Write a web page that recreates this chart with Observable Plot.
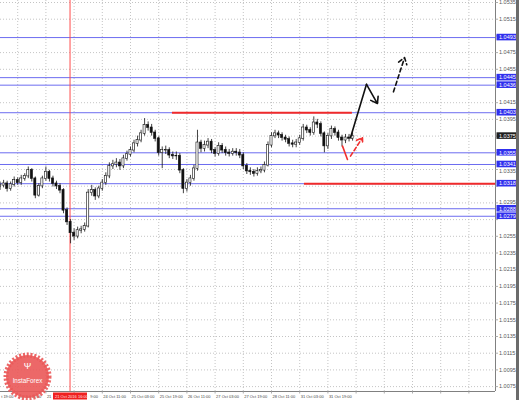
<!DOCTYPE html>
<html>
<head>
<meta charset="utf-8">
<script src="https://cdn.jsdelivr.net/npm/d3@7"></script>
<script src="https://cdn.jsdelivr.net/npm/@observablehq/plot@0.6"></script>
<style>
  body { margin: 0; background: #fff; }
  #wrap { position: relative; width: 519px; height: 400px; overflow: hidden; }
  #wrap svg { display: block; }
  #edge { position: absolute; left: 516px; top: 0; width: 3px; height: 400px; background: #6b6b6b; }
</style>
</head>
<body>
<div id="wrap"><div id="edge"></div></div>
<script>
// ---- data ----
const priceTicks = [1.0535, 1.0515, 1.0495, 1.0475, 1.0455, 1.0435, 1.0415, 1.0395, 1.0375, 1.0355, 1.0335, 1.0315,
  1.0295, 1.0275, 1.0255, 1.0235, 1.0215, 1.0195, 1.0175, 1.0155, 1.0135, 1.0115, 1.0095, 1.0075];
const timeLabels = ["19 Oct 19:00", "20 Oct 11:00", "21 Oct 03:00", "21 Oct 19:00", "24 Oct 11:00", "25 Oct 03:00",
  "25 Oct 19:00", "26 Oct 11:00", "27 Oct 03:00", "27 Oct 19:00", "28 Oct 11:00", "31 Oct 03:00", "31 Oct 19:00"];
const barsPerLabel = 16;
const firstOpen = 1.0314;
const closes = [
  1.0316, 1.0318, 1.0312, 1.0317, 1.0322, 1.0319, 1.0324, 1.0327, 1.0334, 1.0324,
  1.0304, 1.0315, 1.0324, 1.0332, 1.0324, 1.0318, 1.0315, 1.0310, 1.0286, 1.0272,
  1.0259, 1.0255, 1.0262, 1.0263, 1.0267, 1.0307, 1.0310, 1.0303, 1.0312, 1.0319,
  1.0327, 1.0339, 1.0341, 1.0343, 1.0339, 1.0348, 1.0353, 1.0358, 1.0366, 1.0370,
  1.0378, 1.0388, 1.0385, 1.0379, 1.0372, 1.0355, 1.0358, 1.0358, 1.0352, 1.0351,
  1.0351, 1.0334, 1.0312, 1.0319, 1.0324, 1.0336, 1.0367, 1.0360, 1.0364, 1.0368,
  1.0358, 1.0354, 1.0363, 1.0358, 1.0355, 1.0354, 1.0356, 1.0355, 1.0352, 1.0339,
  1.0333, 1.0332, 1.0330, 1.0333, 1.0334, 1.0340, 1.0364, 1.0375, 1.0378, 1.0376,
  1.0373, 1.0371, 1.0366, 1.0365, 1.0367, 1.0372, 1.0385, 1.0382, 1.0379, 1.0391,
  1.0389, 1.0378, 1.0363, 1.0375, 1.0383, 1.0379, 1.0373, 1.0370, 1.0373, 1.0372,
  1.0375];
const highs = [
  1.0320, 1.0322, 1.0321, 1.0320, 1.0326, 1.0325, 1.0328, 1.0330, 1.0338, 1.0336,
  1.0326, 1.0318, 1.0327, 1.0338, 1.0334, 1.0327, 1.0321, 1.0318, 1.0312, 1.0289,
  1.0275, 1.0264, 1.0266, 1.0267, 1.0271, 1.0311, 1.0316, 1.0313, 1.0315, 1.0323,
  1.0331, 1.0343, 1.0346, 1.0348, 1.0347, 1.0352, 1.0357, 1.0362, 1.0370, 1.0375,
  1.0382, 1.0396, 1.0392, 1.0389, 1.0382, 1.0374, 1.0362, 1.0363, 1.0361, 1.0356,
  1.0356, 1.0354, 1.0336, 1.0323, 1.0328, 1.0340, 1.0382, 1.0370, 1.0369, 1.0372,
  1.0371, 1.0361, 1.0367, 1.0366, 1.0362, 1.0359, 1.0360, 1.0360, 1.0359, 1.0355,
  1.0342, 1.0337, 1.0335, 1.0337, 1.0338, 1.0344, 1.0368, 1.0379, 1.0382, 1.0381,
  1.0379, 1.0376, 1.0374, 1.0370, 1.0371, 1.0376, 1.0389, 1.0388, 1.0385, 1.0398,
  1.0395, 1.0392, 1.0380, 1.0378, 1.0387, 1.0386, 1.0382, 1.0376, 1.0377, 1.0377,
  1.0379];
const lows = [
  1.0310, 1.0313, 1.0308, 1.0309, 1.0314, 1.0316, 1.0316, 1.0321, 1.0324, 1.0320,
  1.0300, 1.0302, 1.0312, 1.0321, 1.0320, 1.0314, 1.0311, 1.0306, 1.0282, 1.0268,
  1.0246, 1.0250, 1.0252, 1.0258, 1.0260, 1.0265, 1.0303, 1.0298, 1.0300, 1.0309,
  1.0316, 1.0324, 1.0335, 1.0337, 1.0334, 1.0336, 1.0345, 1.0350, 1.0355, 1.0362,
  1.0367, 1.0375, 1.0381, 1.0375, 1.0368, 1.0351, 1.0336, 1.0353, 1.0348, 1.0347,
  1.0346, 1.0330, 1.0306, 1.0308, 1.0315, 1.0321, 1.0333, 1.0355, 1.0356, 1.0360,
  1.0354, 1.0350, 1.0351, 1.0354, 1.0351, 1.0350, 1.0351, 1.0351, 1.0348, 1.0335,
  1.0329, 1.0328, 1.0326, 1.0327, 1.0330, 1.0331, 1.0338, 1.0361, 1.0372, 1.0372,
  1.0369, 1.0367, 1.0362, 1.0361, 1.0361, 1.0364, 1.0369, 1.0378, 1.0375, 1.0376,
  1.0384, 1.0374, 1.0355, 1.0359, 1.0371, 1.0375, 1.0369, 1.0362, 1.0366, 1.0368,
  1.0369];
const firstBar = 6;      // hourly bar index of the first 2-hour candle
const barStep = 2;
const levels = [1.0493, 1.0445, 1.0436, 1.0403, 1.0355, 1.0341, 1.0318, 1.0288, 1.0279];
const redLevels = [
  { p: 1.0403, from: 103.8, to: 205.9 },
  { p: 1.0318, from: 178.7, to: 287.1 }
];
const redVerticalBar = [45.7];
const redVerticalLabel = "21 Oct 2016 16:00";
const currentPrice = 1.0375;
const blackPath = [{ b: 204.8, p: 1.0373 }, { b: 213.9, p: 1.0437 }];
const blackArrowSolid = [{ x1: 213.9, y1: 1.0437, x2: 220.1, y2: 1.0414 }];
const blackArrowDashed = [{ x1: 229.2, y1: 1.0428, x2: 235.5, y2: 1.0469 }];
const redPath = [{ b: 200.3, p: 1.0363 }, { b: 203.1, p: 1.0347 }];
const redArrows = [{ x1: 204.8, y1: 1.0351, x2: 211.6, y2: 1.0373 }];
const logoText = "InstaForex";

// ---- layout helpers (pixel <-> data, used for decorations only) ----
const PX_PER_BAR = 1.7625, BAR0_X = -11;
const pxToBar = px => (px - BAR0_X) / PX_PER_BAR;
const barToPx = b => BAR0_X + b * PX_PER_BAR;
const PX_PER_PRICE = 16.7 / 0.002;
const pyToPrice = py => 1.0535 - (py - 2) / PX_PER_PRICE;

const candles = closes.map((c, i) => ({
  b: firstBar + i * barStep,
  o: i === 0 ? firstOpen : closes[i - 1],
  c, h: highs[i], l: lows[i]
}));
const xDomain = [pxToBar(0), pxToBar(495)];
const gridBars = d3.range(0, xDomain[1], barsPerLabel);

// grid lines hidden where a level line sits right next to them
const boxes = levels.concat([currentPrice]);
const gridPrices = priceTicks.filter(t => !levels.some(l => Math.abs(t - l) * PX_PER_PRICE < 2));

// price tick labels: hide those covered by a highlighted box, nudge near ones clear of it
const BOX_HALF = 3.3, LABEL_HALF = 2.9;
const tickLabels = [];
for (const t of priceTicks) {
  let nearest = null, dist = Infinity;
  for (const b of boxes) { const d = Math.abs(t - b) * PX_PER_PRICE; if (d < dist) { dist = d; nearest = b; } }
  if (dist < 3.6) continue;
  let shiftPx = 0;
  const need = BOX_HALF + LABEL_HALF + 0.2;
  if (dist < need) shiftPx = (need - dist) * (t < nearest ? 1 : -1);
  tickLabels.push({ t, pos: t - shiftPx / PX_PER_PRICE });
}

// time labels: the part hidden under the red time box (or off the left edge) is not drawn
const ctx = document.createElement("canvas").getContext("2d");
ctx.font = "4px 'Liberation Sans'";
const boxL = 53, boxR = 87;
const timeTexts = timeLabels.map((s, i) => {
  const bar = i * barsPerLabel;
  let start = barToPx(bar) + 1;
  const w = ctx.measureText(s).width;
  let text = s;
  if (start < boxR && start + w > boxL) {
    if (start < boxL) {
      while (text.length && start + ctx.measureText(text).width > boxL - 0.5) text = text.slice(0, -1);
    } else {
      while (text.length && start + w - ctx.measureText(text).width < boxR + 0.5) text = text.slice(1);
      start = start + w - ctx.measureText(text).width;
    }
  } else if (start < 0) {
    while (text.length && start + w - ctx.measureText(text).width < 0.5) text = text.slice(1);
    start = start + w - ctx.measureText(text).width;
  }
  return { bar: pxToBar(start), text: text.trim() };
}).filter(d => d.text.length);

const boxH = BOX_HALF / PX_PER_PRICE;
const bx1 = pxToBar(496.5), bx2 = pxToBar(517);
const tx = pxToBar(498.5);
const yBottom = pyToPrice(391);

const chart = Plot.plot({
  width: 519, height: 400,
  marginLeft: 0, marginRight: 24, marginTop: 0, marginBottom: 9,
  x: { domain: xDomain, axis: null },
  y: { domain: [yBottom, pyToPrice(0)], axis: null },
  style: { background: "white", fontFamily: "'Liberation Sans', sans-serif", overflow: "visible" },
  marks: [
    Plot.ruleY(gridPrices, { stroke: "#b5b5b5", strokeWidth: 0.8, strokeDasharray: "1,2" }),
    Plot.ruleX(gridBars, { stroke: "#b5b5b5", strokeWidth: 0.8, strokeDasharray: "1,2" }),
    Plot.ruleY(levels, { y: d => d, stroke: "#6c6cf0", strokeWidth: 1 }),
    Plot.ruleY(redLevels, { y: "p", x1: "from", x2: "to", stroke: "#f02a2a", strokeWidth: 2 }),
    Plot.ruleX(redVerticalBar, { x: d => d, stroke: "#ff4c4c", strokeWidth: 1 }),
    // candles
    Plot.ruleX(candles, { x: "b", y1: "l", y2: "h", stroke: "#111", strokeWidth: 0.8 }),
    Plot.rect(candles, {
      x1: d => d.b - 0.6, x2: d => d.b + 0.6,
      y1: d => Math.min(d.o, d.c) - 0.00003, y2: d => Math.max(d.o, d.c) + 0.00003,
      fill: d => d.c >= d.o ? "#fff" : "#111", stroke: "#111", strokeWidth: 0.6
    }),
    // forecast arrows
    Plot.line(blackPath, { x: "b", y: "p", stroke: "#111", strokeWidth: 1.6 }),
    Plot.arrow(blackArrowSolid, { x1: "x1", y1: "y1", x2: "x2", y2: "y2", stroke: "#111", strokeWidth: 1.6,
      headLength: 7, headAngle: 70 }),
    Plot.arrow(blackArrowDashed, { x1: "x1", y1: "y1", x2: "x2", y2: "y2", stroke: "#111", strokeWidth: 1.6,
      strokeDasharray: "4,3", headLength: 7, headAngle: 70 }),
    Plot.line(redPath, { x: "b", y: "p", stroke: "#f03030", strokeWidth: 1.6 }),
    Plot.arrow(redArrows, { x1: "x1", y1: "y1", x2: "x2", y2: "y2", stroke: "#f03030", strokeWidth: 1.6,
      strokeDasharray: "4,2.5", headLength: 6, headAngle: 70 }),
    // frame lines
    Plot.ruleX([xDomain[1]], { x: d => d, stroke: "#808080", strokeWidth: 1 }),
    Plot.ruleY([yBottom], { y: d => d, stroke: "#808080", strokeWidth: 1 }),
    // price axis: tick marks and labels
    Plot.ruleY(priceTicks, { y: d => d, x1: () => xDomain[1], x2: () => pxToBar(498), stroke: "#999", strokeWidth: 0.8 }),
    Plot.text(tickLabels, { x: () => tx, y: "pos", text: d => d.t.toFixed(4), fill: "#555", textAnchor: "start", fontSize: 5.5 }),
    // time axis: tick marks and labels
    Plot.ruleX(gridBars, { x: d => d, y1: () => yBottom, y2: () => pyToPrice(393.5), stroke: "#999", strokeWidth: 0.8 }),
    Plot.text(timeTexts, { x: "bar", y: () => pyToPrice(396.2), text: "text", fill: "#444", textAnchor: "start", fontSize: 4 }),
    // level labels
    Plot.rect(levels, { x1: () => bx1, x2: () => bx2, y1: d => d - boxH, y2: d => d + boxH, fill: "#3030ee" }),
    Plot.text(levels, { x: () => tx, y: d => d, text: d => d.toFixed(4), fill: "white", textAnchor: "start", fontSize: 5.5 }),
    Plot.rect([currentPrice], { x1: () => bx1, x2: () => bx2, y1: d => d - boxH, y2: d => d + boxH, fill: "#202020" }),
    Plot.text([currentPrice], { x: () => tx, y: d => d, text: d => d.toFixed(4), fill: "white", textAnchor: "start", fontSize: 5.5 }),
    // red vertical line label
    Plot.rect(redVerticalBar, { x1: () => pxToBar(boxL), x2: () => pxToBar(boxR), y1: () => pyToPrice(392.5), y2: () => pyToPrice(399.5), fill: "#f02020" }),
    Plot.text(redVerticalBar, { x: () => pxToBar(54.5), y: () => pyToPrice(396.2), text: () => redVerticalLabel,
      fill: "#ffe0e0", textAnchor: "start", fontSize: 4 }),
    // logo
    Plot.dot([logoText], { x: () => pxToBar(27), y: () => pyToPrice(376), r: 21.5, fill: "#ea5858", fillOpacity: 0.9,
      stroke: "#ea5858", strokeOpacity: 0.9, strokeWidth: 5, strokeDasharray: "2,1.7" }),
    Plot.text([logoText], { x: () => pxToBar(27), y: () => pyToPrice(366), text: () => "Ψ", fill: "white", fontSize: 9 }),
    Plot.text([logoText], { x: () => pxToBar(27), y: () => pyToPrice(380), text: d => d, fill: "white", fontSize: 6.3 })
  ]
});
document.getElementById("wrap").prepend(chart);
</script>
</body>
</html>
